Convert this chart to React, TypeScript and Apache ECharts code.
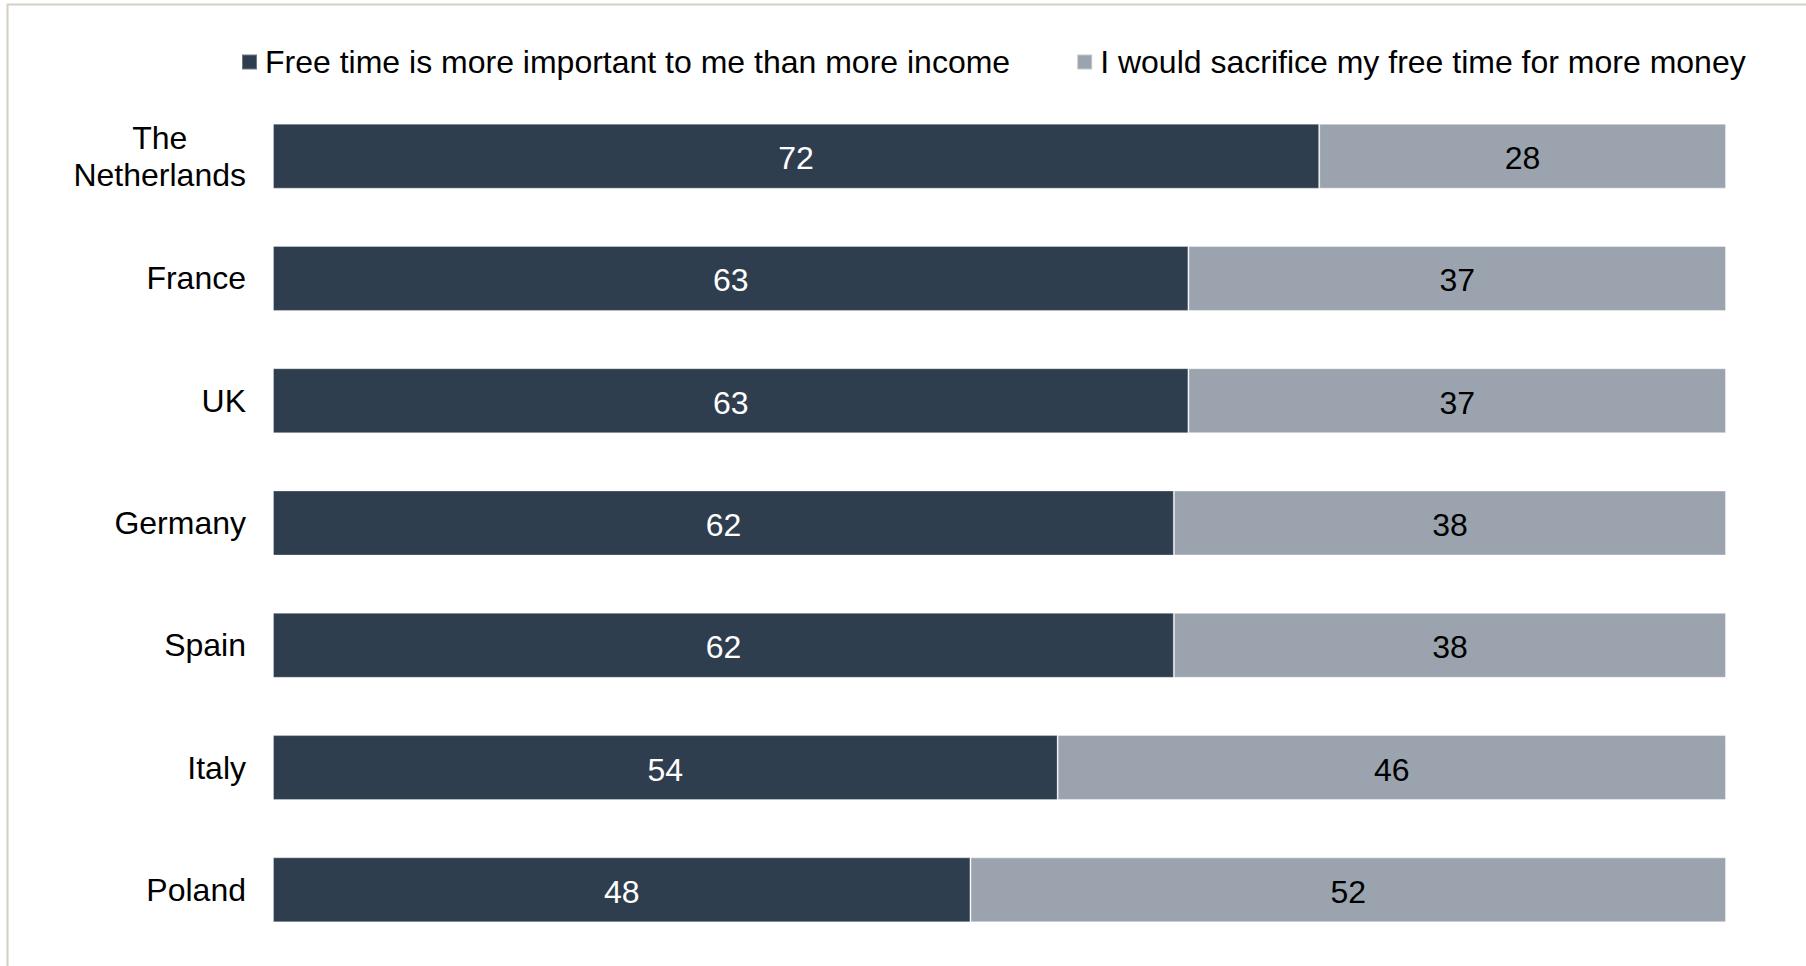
import React, { useEffect, useRef } from "react";
import * as echarts from "echarts";

const categories = ["The\nNetherlands", "France", "UK", "Germany", "Spain", "Italy", "Poland"];
const freeTime = [72, 63, 63, 62, 62, 54, 48];
const moreMoney = [28, 37, 37, 38, 38, 46, 52];
const seriesNames = [
  "Free time is more important to me than more income",
  "I would sacrifice my free time for more money",
];

const FONT = "'Liberation Sans', Arial, sans-serif";

export default function App() {
  const ref = useRef<HTMLDivElement>(null);
  useEffect(() => {
    if (!ref.current) return;
    const chart = echarts.init(ref.current, null, { renderer: "svg" });
    chart.setOption({
      animation: false,
      backgroundColor: "#ffffff",
      textStyle: { fontFamily: FONT },
      graphic: [
        { type: "line", shape: { x1: 7, y1: 4.5, x2: 1806, y2: 4.5 }, style: { stroke: "#d6d0c4", lineWidth: 2 } },
        { type: "line", shape: { x1: 7.5, y1: 4, x2: 7.5, y2: 966 }, style: { stroke: "#d6d0c4", lineWidth: 2 } },
      ],
      legend: {
        left: 236,
        top: 41,
        itemWidth: 15,
        itemHeight: 15,
        itemGap: 66,
        icon: "rect",
        textStyle: { fontSize: 32, color: "#000", fontFamily: FONT, padding: [0, 0, 0, 3] },
        data: seriesNames,
      },
      grid: { left: 273, right: 80, top: 95, bottom: 15, containLabel: false },
      xAxis: { type: "value", min: 0, max: 100, show: false },
      yAxis: {
        type: "category",
        inverse: true,
        data: categories,
        axisLine: { show: false },
        axisTick: { show: false },
        axisLabel: {
          margin: 27,
          color: "#000",
          fontSize: 32,
          fontFamily: FONT,
          formatter: (v: string) => v.split("\n").map((l) => `{c|${l}}`).join("\n"),
          rich: { c: { align: "center", fontSize: 32, lineHeight: 37, fontFamily: FONT, color: "#000" } },
        },
      },
      series: [
        {
          name: seriesNames[0],
          type: "bar",
          stack: "total",
          barWidth: 65,
          data: freeTime,
          itemStyle: { color: "#2f3e4e", borderColor: "rgba(255,255,255,0.3)", borderWidth: 1 },
          label: { show: true, position: "inside", offset: [0, 2], color: "#ffffff", fontSize: 32, fontFamily: FONT },
        },
        {
          name: seriesNames[1],
          type: "bar",
          stack: "total",
          barWidth: 65,
          data: moreMoney,
          itemStyle: { color: "#9ba4ae", borderColor: "rgba(255,255,255,0.4)", borderWidth: 1 },
          label: { show: true, position: "inside", offset: [0, 2], color: "#000000", fontSize: 32, fontFamily: FONT },
        },
      ],
    });
    return () => chart.dispose();
  }, []);
  return (
    <div
      ref={ref}
      style={{ position: "fixed", left: 0, top: 0, width: 1806, height: 966 }}
    />
  );
}
